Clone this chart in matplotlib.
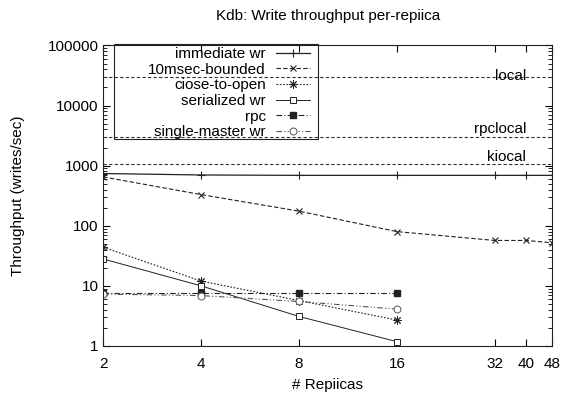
import matplotlib
matplotlib.use('Agg')
import matplotlib.pyplot as plt
from matplotlib.patches import Rectangle
from matplotlib.ticker import FixedLocator, FixedFormatter, NullLocator, LogLocator

plt.rcParams['font.family'] = ['Liberation Sans', 'DejaVu Sans']

# replica counts and per-replica write throughput (writes/sec)
replicas_all = [2, 4, 8, 16, 32, 40, 48]
replicas = [2, 4, 8, 16]
immediate_wr = [740, 700, 690, 690, 690, 690, 690]
msec10_bounded = [650, 330, 175, 80, 57, 57, 52]
close_to_open = [44, 12, 5.7, 2.7]
serialized_wr = [28, 10, 3.1, 1.18]
rpc = [7.5, 7.5, 7.5, 7.5]
single_master_wr = [7.3, 6.9, 5.5, 4.1]

# reference throughputs (no replication)
ref_names = ['local', 'rpclocal', 'kiocal']
ref_values = [30000, 3000, 1050]

xticks = [2, 4, 8, 16, 32, 40, 48]
yticks = [1, 10, 100, 1000, 10000, 100000]

W, H = 563, 397
fig = plt.figure(figsize=(W / 100, H / 100), dpi=100)
ax = fig.add_axes([0.1835, 0.1285, 0.797, 0.757])

ax.set_xscale('log', base=2)
ax.set_yscale('log')
ax.set_xlim(2, 48)
ax.set_ylim(1, 100000)

dark = '#222222'
ax.plot(replicas_all, immediate_wr, color=dark, lw=0.9, ls='-', marker='+', ms=6, mew=0.8, label='immediate wr')
ax.plot(replicas_all, msec10_bounded, color=dark, lw=0.8, ls=(0, (4, 2)), marker='x', ms=5, mew=0.8, label='10msec-bounded')
ax.plot(replicas, close_to_open, color=dark, lw=0.8, ls=(0, (1.5, 1.5)), marker=(8, 2, 0), ms=6, mew=0.7, label='ciose-to-open')
ax.plot(replicas, serialized_wr, color=dark, lw=0.7, ls='-', marker='s', ms=5, mfc='white', mew=0.7, label='serialized wr')
ax.plot(replicas, rpc, color=dark, lw=0.8, ls=(0, (5, 2, 1, 2)), marker='s', ms=5, mfc=dark, label='rpc')
ax.plot(replicas, single_master_wr, color='#555555', lw=0.8, ls=(0, (5, 2, 1, 2, 1, 2)), marker='o', ms=5, mfc='white', mew=0.7, label='single-master wr')

for name, val in zip(ref_names, ref_values):
    ax.axhline(val, color='#333333', lw=0.8, ls=(0, (3, 2)))
    if name == 'local':
        ax.text(40, val * 1.05, name, ha='right', va='center', fontsize=11)
    else:
        ax.text(40, val * 1.03, name, ha='right', va='bottom', fontsize=11)

ax.xaxis.set_major_locator(FixedLocator(xticks))
ax.xaxis.set_major_formatter(FixedFormatter([str(t) for t in xticks]))
ax.xaxis.set_minor_locator(NullLocator())
ax.yaxis.set_major_locator(FixedLocator(yticks))
ax.yaxis.set_major_formatter(FixedFormatter([str(t) for t in yticks]))
ax.yaxis.set_minor_locator(LogLocator(base=10, subs=range(2, 10)))
ax.tick_params(which='both', direction='in', top=True, right=True, labelsize=11)
ax.tick_params(which='major', length=5)
ax.tick_params(which='minor', length=3)
ax.tick_params(axis='x', pad=8)

for s in ax.spines.values():
    s.set_linewidth(0.8)
    s.set_color('#222222')

ax.set_title('Kdb: Write throughput per-repiica', fontsize=11, pad=18)
ax.set_xlabel('# Repiicas', fontsize=11, labelpad=5)
ax.set_ylabel('Throughput (writes/sec)', fontsize=11, labelpad=16)

# gnuplot-style key: text right-aligned, sample to the right, thin box
leg = ax.legend(loc='upper right', bbox_to_anchor=((310 - 103.3) / 448.7, 0.995), markerfirst=False,
                fontsize=11, labelspacing=0.11, handlelength=2.2, handletextpad=0.7, borderpad=0,
                borderaxespad=0, frameon=False, numpoints=1)
for t in leg.get_texts():
    t.set_ha('right')
fig.add_artist(Rectangle((114 / W, 1 - 139 / H), 204 / W, 95 / H, transform=fig.transFigure,
                         fill=False, edgecolor=dark, lw=0.8))

fig.savefig('out.png', dpi=100)
